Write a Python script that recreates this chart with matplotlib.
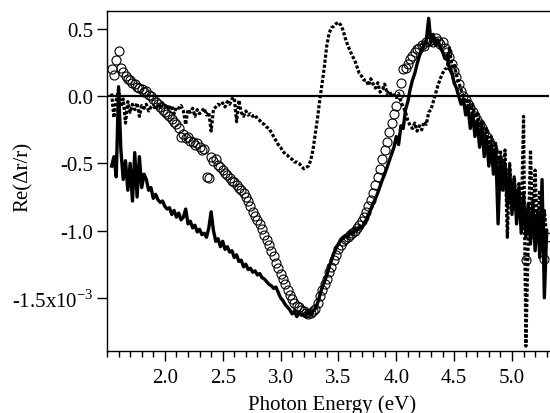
import numpy as np
import matplotlib
matplotlib.use("Agg")
import matplotlib.pyplot as plt
from matplotlib.ticker import MultipleLocator, FixedLocator, FixedFormatter

plt.rcParams['font.family'] = ['Liberation Serif', 'DejaVu Serif']
plt.rcParams['mathtext.fontset'] = 'custom'
plt.rcParams['mathtext.rm'] = 'Liberation Serif'

# ---- data (Re(dr/r) in units of 1e-3), sampled on 1.54 .. 5.30 eV ----
energy_start, energy_stop = 1.54, 5.30

circle_vals = [
    0.20, 0.16, 0.27, 0.34, 0.21, 0.18, 0.15, 0.13, 0.12, 0.10,
    0.09, 0.07, 0.06, 0.05, 0.03, 0.04, 0.01, 0.00, -0.02, -0.04,
    -0.06, -0.08, -0.10, -0.12, -0.13, -0.15, -0.17, -0.19, -0.21, -0.24,
    -0.30, -0.28, -0.31, -0.30, -0.33, -0.34, -0.36, -0.35, -0.38, -0.40,
    -0.39, -0.60, -0.61, -0.45, -0.48, -0.47, -0.51, -0.53, -0.55, -0.57,
    -0.59, -0.61, -0.63, -0.64, -0.66, -0.68, -0.70, -0.72, -0.75, -0.78,
    -0.82, -0.86, -0.89, -0.92, -0.95, -0.99, -1.03, -1.07, -1.11, -1.15,
    -1.19, -1.24, -1.28, -1.32, -1.36, -1.40, -1.44, -1.48, -1.51, -1.54,
    -1.56, -1.57, -1.59, -1.60, -1.61, -1.62, -1.61, -1.60, -1.58, -1.54,
    -1.49, -1.44, -1.40, -1.36, -1.31, -1.27, -1.22, -1.18, -1.14, -1.11,
    -1.08, -1.06, -1.05, -1.03, -1.02, -1.00, -0.98, -0.96, -0.93, -0.90,
    -0.86, -0.82, -0.77, -0.72, -0.66, -0.60, -0.54, -0.47, -0.40, -0.34,
    -0.27, -0.20, -0.13, -0.07, 0.02, 0.10, 0.20, 0.21, 0.24, 0.28,
    0.30, 0.33, 0.35, 0.36, 0.38, 0.37, 0.40, 0.41, 0.42, 0.40,
    0.43, 0.41, 0.39, 0.40, 0.36, 0.33, 0.29, 0.24, 0.19, 0.14,
    0.09, 0.04, 0.00, -0.03, -0.06, -0.09, -0.12, -0.15, -0.18, -0.21,
    -0.24, -0.27, -0.30, -0.33, -0.36, -0.40, -0.44, -0.48, -0.52, -0.56,
    -0.60, -0.64, -0.68, -0.72, -0.76, -0.80, -0.84, -0.88, -0.92, -1.22,
    -0.95, -0.98, -1.02, -0.96, -1.05, -1.00, -1.08, -1.21, -1.05,
]

solid_vals = [
    -0.52, -0.45, -0.60, 0.07, -0.40, -0.62, -0.48, -0.70, -0.50, -0.78,
    -0.42, -0.75, -0.45, -0.68, -0.58, -0.62, -0.70, -0.68, -0.76, -0.73,
    -0.77, -0.79, -0.78, -0.82, -0.84, -0.83, -0.88, -0.85, -0.90, -0.87,
    -0.92, -0.90, -0.84, -0.95, -0.93, -0.98, -0.96, -1.01, -0.99, -1.03,
    -1.02, -1.05, -0.98, -0.86, -1.00, -1.08, -1.06, -1.12, -1.08, -1.14,
    -1.12, -1.16, -1.15, -1.20, -1.18, -1.23, -1.22, -1.27, -1.25, -1.29,
    -1.28, -1.31, -1.30, -1.33, -1.32, -1.35, -1.36, -1.38, -1.40, -1.41,
    -1.43, -1.42, -1.46, -1.50, -1.52, -1.55, -1.57, -1.59, -1.62, -1.60,
    -1.64, -1.61, -1.63, -1.62, -1.64, -1.60, -1.63, -1.60, -1.58, -1.54,
    -1.48, -1.42, -1.38, -1.33, -1.27, -1.22, -1.17, -1.13, -1.10, -1.07,
    -1.06, -1.04, -1.05, -1.01, -1.03, -0.99, -1.00, -0.97, -0.98, -0.95,
    -0.92, -0.88, -0.84, -0.80, -0.76, -0.72, -0.67, -0.62, -0.58, -0.53,
    -0.48, -0.43, -0.38, -0.30, -0.36, -0.22, -0.24, -0.10, -0.04, 0.05,
    0.12, 0.17, 0.24, 0.30, 0.34, 0.38, 0.42, 0.58, 0.40, 0.46,
    0.38, 0.42, 0.36, 0.33, 0.28, 0.30, 0.20, 0.18, 0.10, 0.06,
    0.00, -0.06, -0.02, -0.14, -0.08, -0.24, -0.12, -0.30, -0.18, -0.38,
    -0.22, -0.45, -0.30, -0.52, -0.35, -0.58, -0.40, -0.95, -0.45, -0.70,
    -0.50, -0.82, -0.55, -0.88, -0.62, -0.95, -0.68, -1.02, -0.72, -1.05,
    -0.80, -1.10, -0.78, -1.15, -0.85, -1.20, -0.62, -1.50, -1.00,
]

dotted_vals = [
    0.02, -0.16, -0.03, 0.05, -0.08, -0.02, -0.20, -0.04, -0.12, -0.06,
    -0.10, -0.05, -0.15, -0.07, -0.09, -0.06, -0.11, -0.08, -0.07, -0.10,
    -0.06, -0.09, -0.05, -0.08, -0.06, -0.10, -0.07, -0.13, -0.08, -0.09,
    -0.07, -0.11, -0.21, -0.10, -0.12, -0.09, -0.15, -0.10, -0.13, -0.11,
    -0.09, -0.14, -0.12, -0.26, -0.10, -0.08, -0.06, -0.07, -0.05, -0.08,
    -0.04, -0.06, -0.02, -0.01, -0.19, -0.03, -0.12, -0.15, -0.11, -0.14,
    -0.13, -0.15, -0.14, -0.17, -0.18, -0.20, -0.21, -0.23, -0.24, -0.27,
    -0.30, -0.33, -0.36, -0.38, -0.41, -0.43, -0.44, -0.46, -0.47, -0.49,
    -0.49, -0.50, -0.52, -0.54, -0.53, -0.52, -0.48, -0.40, -0.28, -0.16,
    -0.02, 0.10, 0.23, 0.38, 0.47, 0.51, 0.52, 0.54, 0.55, 0.53,
    0.49, 0.43, 0.38, 0.34, 0.30, 0.27, 0.22, 0.17, 0.15, 0.12,
    0.12, 0.08, 0.13, 0.09, 0.06, 0.10, 0.03, 0.05, 0.09, 0.02,
    0.04, 0.00, 0.01, -0.01, 0.02, -0.04, -0.08, -0.12, -0.18, -0.22,
    -0.24, -0.20, -0.26, -0.22, -0.25, -0.19, -0.21, -0.12, -0.10, -0.04,
    0.02, 0.08, 0.13, 0.17, 0.20, 0.21, 0.36, 0.22, 0.24, 0.16,
    0.10, 0.05, 0.00, -0.05, -0.02, -0.10, -0.06, -0.16, -0.12, -0.22,
    -0.18, -0.30, -0.24, -0.38, -0.30, -0.46, -0.35, -0.55, -0.40, -0.62,
    -0.40, -1.05, -0.50, -0.75, -0.60, -0.85, -0.65, -0.95, -0.15, -1.86,
    -1.10, -0.40, -1.00, -0.55, -1.05, -0.70, -1.15, -0.85, -1.05,
]

ytick_vals = [0.5, 0.0, -0.5, -1.0, -1.5]
ytick_labels = ['0.5', '0.0', '-0.5', '-1.0', '-1.5x10$^{\\mathregular{-3}}$']
xtick_vals = [2.0, 2.5, 3.0, 3.5, 4.0, 4.5, 5.0]
xtick_labels = ['2.0', '2.5', '3.0', '3.5', '4.0', '4.5', '5.0']

x_circ = np.linspace(energy_start, energy_stop, len(circle_vals))
x_line = np.linspace(energy_start, energy_stop, len(solid_vals))
x_dot = np.linspace(energy_start, energy_stop, len(dotted_vals))

fig = plt.figure(figsize=(5.5, 4.14), dpi=100)
ax = fig.add_axes([107/550, 1-352/414, 442/550, 340/414])

ax.axhline(0, color='black', lw=1.6, zorder=1)
ax.plot(x_line, solid_vals, color='black', lw=2.4, zorder=3)
ax.plot(x_dot, dotted_vals, color='black', lw=2.3, linestyle=(0, (1.0, 0.6)), zorder=2)
ax.plot(x_circ, circle_vals, linestyle='none', marker='o', ms=6.5,
        mfc='none', mec='black', mew=0.8, zorder=4)

ax.set_xlim(1.5, 5.32)
ax.set_ylim(-1.896, 0.634)

ax.xaxis.set_major_locator(FixedLocator(xtick_vals))
ax.xaxis.set_major_formatter(FixedFormatter(xtick_labels))
ax.xaxis.set_minor_locator(MultipleLocator(0.1))
ax.yaxis.set_major_locator(FixedLocator(ytick_vals))
ax.yaxis.set_major_formatter(FixedFormatter(ytick_labels))

ax.tick_params(axis='both', which='major', direction='out', length=7, width=1.0,
               labelsize=15, color='black')
ax.tick_params(axis='x', which='major', pad=5)
ax.tick_params(axis='y', which='major', pad=3)
ax.tick_params(axis='x', which='minor', direction='out', length=4, width=1.0)
ax.tick_params(axis='y', which='minor', left=False)
ax.tick_params(top=False, right=False)

for s in ['left', 'bottom', 'top']:
    ax.spines[s].set_linewidth(1.0)
ax.spines['right'].set_visible(False)

ax.set_xlabel('Photon Energy (eV)', fontsize=15)
ax.set_ylabel('Re(\u0394r/r)', fontsize=15)
ax.xaxis.set_label_coords(0.509, -0.128)
ax.yaxis.set_label_coords(-0.167, 0.515)

fig.savefig('out.png', dpi=100)
